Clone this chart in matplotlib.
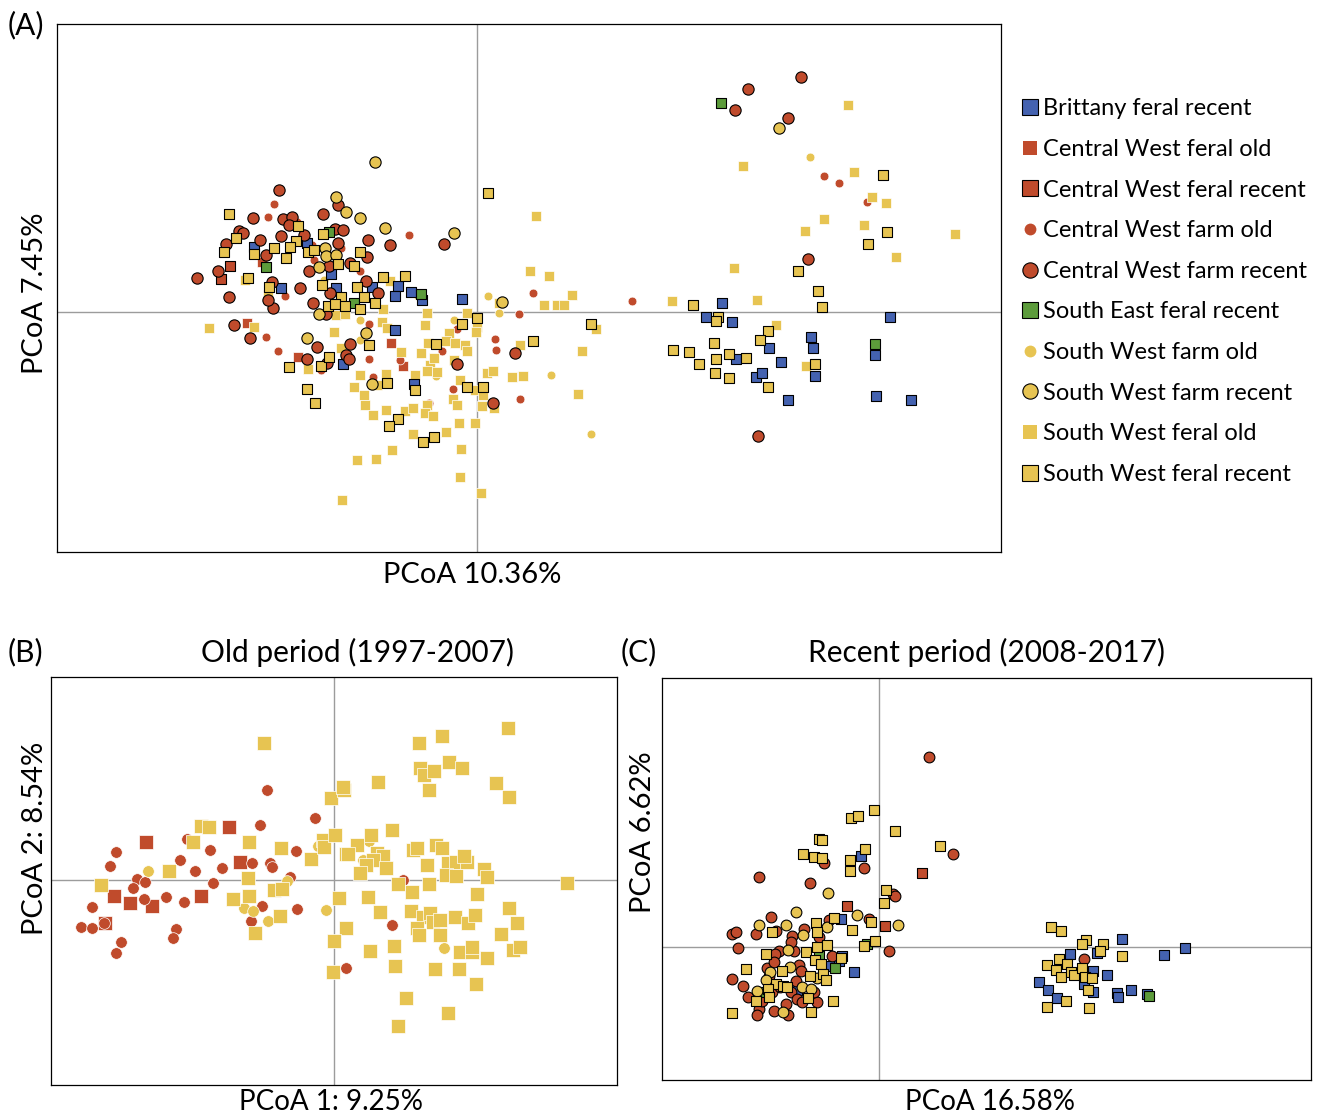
import numpy as np
import matplotlib.pyplot as plt
from matplotlib.lines import Line2D

plt.rcParams['font.family'] = ['Lato', 'DejaVu Sans']

# Группы (порядок легенды)
groups = ['Brittany feral recent', 'Central West feral old', 'Central West feral recent',
          'Central West farm old', 'Central West farm recent', 'South East feral recent',
          'South West farm old', 'South West farm recent', 'South West feral old',
          'South West feral recent']

# ---- (A) все образцы: PCoA 10.36% / 7.45%
a_brittany = [(-2.23, 0.65), (-1.70, 0.69), (-1.46, 0.38), (-1.96, 0.24), (-1.41, 0.24), (-1.05, 0.25),
              (-0.79, 0.26), (-0.82, 0.16), (-0.66, 0.20), (-0.55, 0.12), (-0.15, 0.13), (-0.82, -0.18),
              (-1.34, -0.52), (-0.63, -0.72), (2.45, 0.09), (2.29, -0.05), (2.55, -0.10), (2.92, -0.36),
              (3.34, -0.25), (3.36, -0.36), (4.13, -0.05), (3.98, -0.43), (2.59, -0.47), (3.04, -0.50),
              (2.79, -0.65), (2.85, -0.61), (3.38, -0.64), (3.11, -0.88), (3.99, -0.84), (4.34, -0.88)]
a_cw_feral_old = [(-2.30, -0.11), (-2.15, 0.50), (-1.79, -0.45), (-0.86, -0.31), (-0.74, -0.54)]
a_cw_feral_recent = [(-2.47, 0.46), (-2.56, 0.33)]
a_cw_farm_old = [(-2.03, 1.08), (-2.09, 0.95), (-1.80, 0.90), (-1.63, 0.52), (-1.36, 0.64), (-1.92, 0.16),
                 (-1.08, -0.12), (-1.65, 0.67), (-2.11, -0.25), (-1.99, -0.39), (-1.56, -0.58), (-1.08, -0.47),
                 (-0.68, 0.77), (-1.17, 0.41), (0.56, 0.19), (0.42, -0.02), (1.55, 0.11), (-0.20, -0.17),
                 (-0.35, -0.39), (-0.77, -0.48), (-1.04, -0.65), (0.18, -0.27), (0.19, -0.38), (0.43, -0.87),
                 (-0.24, -0.77), (-0.48, -0.91), (3.47, 1.36), (3.62, 1.29), (3.90, 1.10)]
a_cw_farm_recent = [(-1.98, 1.22), (-2.24, 0.94), (-1.94, 0.93), (-1.85, 0.95), (-2.38, 0.81), (-2.34, 0.79),
                    (-2.51, 0.68), (-2.17, 0.72), (-1.96, 0.76), (-1.73, 0.77), (-1.54, 0.98), (-1.39, 1.07),
                    (-1.42, 0.83), (-1.34, 0.82), (-1.39, 0.69), (-1.09, 0.72), (-2.11, 0.57), (-1.10, 0.55),
                    (-2.59, 0.41), (-2.80, 0.34), (-1.68, 0.41), (-1.48, 0.46), (-1.27, 0.49), (-2.05, 0.30),
                    (-1.77, 0.24), (-1.11, 0.31), (-2.48, 0.15), (-1.47, 0.19), (-1.64, 0.09), (-2.04, 0.04),
                    (-2.09, 0.12), (-1.51, -0.02), (-2.43, -0.13), (-1.88, 0.87), (-2.27, -0.26), (-1.70, -0.47),
                    (-1.60, -0.35), (-1.50, -0.51), (-1.27, -0.32), (-1.31, -0.43), (-1.28, -0.47), (-0.33, 0.68),
                    (-0.87, 0.67), (-0.99, 0.19), (0.38, -0.41), (-0.20, -0.52), (0.16, -0.91), (3.24, 2.35),
                    (2.71, 2.23), (2.58, 2.02), (3.11, 1.94), (3.31, 0.53), (2.81, -1.24)]
a_se_feral_recent = [(-1.48, 0.80), (-2.11, 0.45), (-1.23, 0.09), (-0.56, 0.18), (2.44, 2.09), (3.98, -0.32)]
a_sw_farm_old = [(-1.17, -0.08), (-1.53, 0.32), (-1.17, -0.28), (-0.59, 0.16), (0.11, 0.16), (0.22, -0.01),
                 (-0.23, -0.08), (-0.41, -0.64), (0.74, -0.63), (1.14, -1.22), (3.33, 1.55)]
a_sw_farm_recent = [(-1.41, 1.15), (-1.31, 1.00), (-1.17, 0.94), (-1.02, 1.50), (-1.52, 0.64), (-1.51, 0.56),
                    (-1.41, 0.57), (-1.58, 0.45), (-1.58, -0.02), (-1.70, -0.26), (-1.11, -0.21), (-1.05, -0.72),
                    (-0.92, 0.84), (-0.23, 0.79), (0.25, 0.10), (3.02, 1.84)]
a_sw_feral_old = [(-2.32, 0.32), (-1.41, -0.03), (-1.32, -0.02), (-2.68, -0.16), (-2.23, -0.15), (-2.09, 0.17),
                  (-1.69, -0.57), (-1.36, -0.36), (-1.43, -0.20), (-1.17, -0.63), (-1.23, -0.75), (-1.13, -0.83),
                  (-1.12, -0.93), (-1.04, -1.03), (-1.20, -1.48), (-1.01, -1.47), (0.59, 0.96), (-0.87, 0.31),
                  (-0.94, 0.03), (-0.50, -0.01), (-0.10, -0.01), (-0.52, -0.13), (0.22, 0.09), (0.53, 0.41),
                  (0.72, 0.36), (0.95, 0.17), (0.67, 0.07), (0.80, 0.07), (0.87, 0.07), (1.95, 0.11),
                  (-0.95, -0.10), (0.00, -0.15), (-0.01, -0.20), (-0.90, -0.16), (-0.28, -0.21), (-0.49, -0.31),
                  (-0.31, -0.29), (-0.22, -0.31), (-0.12, -0.33), (-0.10, -0.39), (-0.76, -0.40), (-0.56, -0.41),
                  (-0.47, -0.53), (-0.43, -0.46), (-0.23, -0.48), (-0.50, -0.59), (-0.40, -0.60), (-0.62, -0.63),
                  (-0.91, -0.62), (-1.00, -0.73), (-0.17, -0.68), (-0.02, -0.78), (0.06, -0.83), (0.10, -0.61),
                  (0.16, -0.59), (0.35, -0.65), (0.46, -0.64), (0.43, -0.33), (1.19, -0.17), (1.05, -0.39),
                  (1.01, -0.82), (-0.24, -0.87), (-0.20, -0.93), (-0.50, -0.93), (-0.52, -1.01), (-0.44, -1.04),
                  (0.05, -0.94), (0.17, -0.96), (-0.91, -0.98), (-0.72, -0.99), (-0.64, -0.96), (-0.18, -1.11),
                  (-0.02, -1.11), (-0.64, -1.22), (-0.31, -1.20), (-0.85, -1.38), (-0.16, -1.37), (-0.17, -1.65),
                  (0.04, -1.81), (-1.35, -1.88), (3.71, 2.07), (2.66, 1.46), (3.77, 1.40), (3.95, 1.15),
                  (4.09, 1.09), (3.47, 0.93), (3.28, 0.81), (3.87, 0.87), (4.78, 0.78), (4.19, 0.55),
                  (2.57, 0.44), (2.80, 0.12), (2.99, -0.13), (3.29, -0.54)]
a_sw_feral_recent = [(-2.48, 0.98), (-2.41, 0.74), (-2.53, 0.60), (-2.23, 0.58), (-1.79, 0.86), (-1.81, 0.71),
                     (-2.03, 0.64), (-1.87, 0.65), (-1.91, 0.54), (-1.69, 0.60), (-1.63, 0.62), (-1.54, 0.78),
                     (-1.39, 0.48), (-1.23, 0.46), (-1.17, 0.60), (-2.29, 0.34), (-2.08, 0.25), (-1.55, 0.27),
                     (-1.20, 0.25), (-1.36, 0.15), (-1.13, 0.15), (-1.49, 0.06), (-1.42, 0.08), (-1.32, 0.06),
                     (-1.17, 0.03), (-1.02, 0.09), (-1.88, -0.55), (-1.56, -0.54), (-1.48, -0.45), (-1.08, -0.33),
                     (-1.70, -0.77), (-1.62, -0.91), (0.11, 1.19), (-0.94, 0.35), (-0.72, 0.36), (0.00, -0.06),
                     (-0.15, -0.12), (1.14, -0.12), (-0.41, -0.32), (-0.90, -0.71), (-0.62, -0.78), (-0.10, -0.75),
                     (0.06, -0.75), (0.56, -0.29), (1.96, -0.38), (-0.79, -1.07), (-0.88, -1.14), (-0.43, -1.25),
                     (-0.54, -1.30), (4.06, 1.37), (4.10, 0.80), (3.91, 0.68), (3.21, 0.41), (3.41, 0.21),
                     (3.45, 0.05), (2.16, 0.07), (2.41, -0.05), (2.39, -0.09), (2.91, -0.19), (2.83, -0.28),
                     (2.12, -0.40), (2.37, -0.31), (2.22, -0.52), (2.39, -0.47), (2.52, -0.42), (2.69, -0.46),
                     (2.38, -0.61), (2.52, -0.66), (3.38, -0.52), (2.91, -0.75)]

# ---- (B) старый период: PCoA 1: 9.25% / PCoA 2: 8.54%
b_cw_feral_old = [(-1.88, 0.38), (-1.05, 0.53), (-0.94, 0.18), (-2.20, -0.16), (-2.04, -0.23), (-1.82, -0.26),
                  (-1.33, -0.16), (-2.29, -0.43)]
b_cw_farm_old = [(-0.67, 0.90), (-0.74, 0.55), (-0.19, 0.62), (-1.47, 0.41), (-2.18, 0.28), (-2.24, 0.14),
                 (-1.24, 0.30), (-1.54, 0.20), (-1.39, 0.09), (-1.12, 0.12), (-0.82, 0.17), (-0.64, 0.17),
                 (-0.62, 0.13), (-0.38, 0.29), (-0.44, 0.03), (-1.97, 0.01), (-1.89, -0.02), (-2.01, -0.08),
                 (-1.21, -0.03), (-1.90, -0.19), (-1.68, -0.17), (-1.50, -0.22), (-2.42, -0.27), (-0.72, -0.26),
                 (-0.37, -0.29), (-0.83, -0.41), (-2.53, -0.47), (-2.42, -0.48), (-2.30, -0.43), (-1.58, -0.49),
                 (-1.61, -0.58), (-2.13, -0.62), (-2.18, -0.73), (0.12, -0.88), (0.69, 0.00), (0.58, -0.45)]
b_sw_farm_old = [(-1.86, 0.09), (-0.90, -0.28), (-0.81, -0.31), (-0.66, -0.41), (-0.47, -0.01), (-0.16, 0.34),
                 (-0.08, -0.30), (1.10, -0.68), (0.35, 0.39), (0.29, 0.20)]
b_sw_feral_old = [(-0.70, 1.37), (-0.03, 0.82), (0.10, 0.90), (0.09, 0.93), (-1.33, 0.54), (-1.25, 0.53),
                  (-1.41, 0.38), (-0.85, 0.38), (-0.53, 0.32), (-0.23, 0.21), (-0.11, 0.40), (-0.10, 0.33),
                  (0.01, 0.45), (0.12, 0.26), (-1.65, 0.09), (-2.33, -0.05), (-0.86, 0.02), (-0.85, -0.16),
                  (-1.01, -0.19), (-0.60, -0.10), (-0.52, -0.09), (-0.54, -0.36), (-0.79, -0.53), (0.05, -0.18),
                  (0.12, -0.48), (0.00, -0.61), (-0.01, -0.92), (1.74, 1.52), (1.08, 1.44), (0.85, 1.37),
                  (0.86, 1.12), (0.90, 1.05), (1.00, 1.09), (1.15, 1.18), (1.28, 1.12), (1.62, 0.97),
                  (1.75, 0.83), (0.95, 0.90), (0.44, 0.98), (0.37, 0.45), (0.58, 0.50), (0.23, 0.35),
                  (0.14, 0.26), (0.43, 0.27), (0.49, 0.24), (0.39, 0.20), (0.32, 0.15), (0.52, 0.12),
                  (0.26, 0.07), (0.79, 0.30), (0.83, 0.32), (1.02, 0.35), (1.08, 0.32), (0.93, 0.15),
                  (1.14, 0.17), (1.22, 0.18), (1.33, 0.18), (1.30, 0.24), (1.12, 0.05), (1.22, 0.04),
                  (1.50, 0.11), (1.53, 0.03), (0.64, -0.04), (0.78, -0.12), (0.95, -0.04), (1.43, -0.14),
                  (2.33, -0.03), (0.34, -0.17), (0.46, -0.32), (0.77, -0.31), (0.89, -0.37), (0.96, -0.33),
                  (0.99, -0.42), (1.06, -0.40), (0.83, -0.48), (0.85, -0.55), (1.06, -0.55), (1.21, -0.37),
                  (1.34, -0.43), (1.41, -0.35), (1.75, -0.28), (1.83, -0.43), (1.67, -0.54), (0.36, -0.71),
                  (0.60, -0.66), (1.26, -0.72), (1.38, -0.72), (1.38, -0.67), (1.53, -0.78), (1.79, -0.70),
                  (1.86, -0.67), (0.61, -0.86), (1.01, -0.89), (1.25, -0.89), (1.42, -1.04), (0.72, -1.18),
                  (1.14, -1.33), (0.64, -1.46)]

# ---- (C) недавний период: PCoA 16.58% / 6.62%
c_brittany = [(-0.18, 0.91), (-0.38, 0.28), (-0.25, -0.25), (-0.50, -0.19), (-0.40, -0.14), (-0.37, -0.09),
              (-0.82, -0.43), (2.43, 0.08), (2.85, -0.08), (3.06, -0.01), (1.91, -0.07), (2.18, -0.06),
              (2.14, -0.24), (2.28, -0.28), (2.05, -0.37), (2.14, -0.45), (1.60, -0.35), (1.69, -0.43),
              (1.78, -0.51), (2.38, -0.46), (2.39, -0.50), (2.52, -0.43), (2.68, -0.47)]
c_cw_feral_recent = [(0.43, 0.74), (-0.32, 0.41), (0.06, 0.21)]
c_cw_farm_recent = [(0.50, 1.90), (0.74, 0.93), (-1.20, 0.70), (-0.69, 0.64), (-0.15, 0.79), (-0.55, 0.84),
                    (0.14, 0.53), (0.16, 0.51), (-1.08, 0.30), (-1.47, 0.13), (-1.43, 0.15), (-1.23, 0.13),
                    (-1.41, -0.01), (-1.03, 0.16), (-0.75, 0.18), (-0.87, 0.11), (-0.10, 0.28), (-0.50, 0.27),
                    (0.10, -0.04), (-1.00, -0.04), (-1.04, -0.07), (-0.85, -0.04), (-0.88, 0.05), (-1.12, -0.21),
                    (-1.10, -0.29), (-1.05, -0.15), (-0.80, -0.18), (-0.78, -0.24), (-1.47, -0.32), (-1.36, -0.39),
                    (-1.31, -0.50), (-1.20, -0.62), (-1.22, -0.68), (-1.05, -0.64), (-0.93, -0.57), (-0.91, -0.68),
                    (-0.83, -0.34), (-0.88, -0.45), (-0.82, -0.52), (-0.77, -0.55), (-0.62, -0.55), (-0.65, -0.45),
                    (-0.47, -0.09), (-1.07, -0.45), (-1.17, -0.54), (-0.99, -0.40), (-0.60, 0.10), (2.05, -0.12)]
c_se_feral_recent = [(-0.44, -0.21), (-0.12, 0.03), (-0.60, -0.09), (-1.17, -0.45), (2.70, -0.49)]
c_sw_farm_recent = [(-0.51, 0.54), (-0.83, 0.35), (-1.20, 0.22), (-0.93, 0.22), (-0.22, 0.32), (0.19, 0.22),
                    (-0.52, 0.20), (-0.76, 0.12), (-0.91, -0.03), (-1.09, -0.25), (-0.89, -0.20), (-1.13, -0.33),
                    (-1.22, -0.44), (-0.77, -0.40), (-0.68, -0.42), (-0.96, -0.65), (-0.62, -0.31)]
c_sw_feral_recent = [(-0.05, 1.37), (-0.28, 1.29), (-0.21, 1.31), (0.16, 1.16), (0.61, 1.01), (-0.60, 1.08),
                     (-0.57, 1.07), (-0.14, 0.98), (-0.76, 0.93), (-0.65, 0.90), (-0.57, 0.89), (-0.29, 0.87),
                     (-0.29, 0.76), (0.07, 0.57), (0.05, 0.44), (-0.45, 0.29), (-0.08, 0.25), (-0.63, 0.24),
                     (-1.07, 0.15), (-0.62, 0.15), (-0.27, 0.17), (-0.04, 0.06), (-0.15, 0.01), (-1.13, -0.07),
                     (-0.73, -0.05), (-0.62, 0.00), (-0.52, 0.02), (-0.38, -0.11), (-0.64, -0.13), (-0.58, -0.17),
                     (-1.33, -0.22), (-0.97, -0.24), (-0.56, -0.27), (-0.69, -0.29), (-0.53, -0.33), (-1.03, -0.37),
                     (-0.96, -0.39), (-0.92, -0.40), (-1.11, -0.42), (-1.23, -0.54), (-0.71, -0.51), (-0.46, -0.54),
                     (-1.47, -0.66), (-0.68, -0.65), (-1.10, -0.50), (1.72, 0.20), (1.82, 0.16), (2.07, 0.07),
                     (2.03, 0.03), (2.24, 0.03), (2.21, -0.04), (2.43, -0.09), (1.80, -0.12), (1.68, -0.18),
                     (1.88, -0.17), (1.77, -0.23), (1.82, -0.30), (1.92, -0.25), (1.95, -0.28), (2.03, -0.21),
                     (2.06, -0.30), (2.13, -0.31), (2.09, -0.43), (1.68, -0.60), (1.87, -0.54), (2.10, -0.61)]

# Цвета и маркеры
BLUE, RED, GREEN, YELLOW = '#4462B0', '#C04B2C', '#5C9B3B', '#E7C452'
style = {
    'Brittany feral recent':     ('s', BLUE, True),
    'Central West feral old':    ('s', RED, False),
    'Central West feral recent': ('s', RED, True),
    'Central West farm old':     ('o', RED, False),
    'Central West farm recent':  ('o', RED, True),
    'South East feral recent':   ('s', GREEN, True),
    'South West farm old':       ('o', YELLOW, False),
    'South West farm recent':    ('o', YELLOW, True),
    'South West feral old':      ('s', YELLOW, False),
    'South West feral recent':   ('s', YELLOW, True),
}

panel_a = dict(zip(groups, [a_brittany, a_cw_feral_old, a_cw_feral_recent, a_cw_farm_old, a_cw_farm_recent,
                            a_se_feral_recent, a_sw_farm_old, a_sw_farm_recent, a_sw_feral_old, a_sw_feral_recent]))
panel_b = {'Central West feral old': b_cw_feral_old, 'Central West farm old': b_cw_farm_old,
           'South West farm old': b_sw_farm_old, 'South West feral old': b_sw_feral_old}
panel_c = {'Brittany feral recent': c_brittany, 'Central West feral recent': c_cw_feral_recent,
           'Central West farm recent': c_cw_farm_recent, 'South East feral recent': c_se_feral_recent,
           'South West farm recent': c_sw_farm_recent, 'South West feral recent': c_sw_feral_recent}


def draw(ax, data, sizes):
    # sizes: (квадрат с рамкой, круг с рамкой, квадрат без рамки, круг без рамки)
    for g in groups:
        if g not in data:
            continue
        pts = np.array(data[g])
        marker, col, edged = style[g]
        if edged:
            s = sizes[0] if marker == 's' else sizes[1]
            ax.scatter(pts[:, 0], pts[:, 1], s=s, marker=marker, c=col, edgecolors='black',
                       linewidths=0.8, zorder=3)
        else:
            s = sizes[2] if marker == 's' else sizes[3]
            ax.scatter(pts[:, 0], pts[:, 1], s=s, marker=marker, c=col, edgecolors='white',
                       linewidths=0.5, zorder=2)
    ax.axhline(0, color='#9c9c9c', lw=1, zorder=1)
    ax.axvline(0, color='#9c9c9c', lw=1, zorder=1)
    ax.set_xticks([])
    ax.set_yticks([])
    for sp in ax.spines.values():
        sp.set_linewidth(0.9)


W, H = 1321, 1115
fig = plt.figure(figsize=(W / 100, H / 100), dpi=100)

def box(l, t, r, b):
    return [l / W, 1 - b / H, (r - l) / W, (b - t) / H]

FS = 21
FS2 = 20
FT = 21.5

axA = fig.add_axes(box(57, 24, 1001, 552))
draw(axA, panel_a, (62, 66, 44, 40))
axA.set_xlim(-4.20, 5.24)
axA.set_ylim(-2.40, 2.88)
axA.set_xlabel('PCoA 10.36%', fontsize=FS)
axA.set_ylabel('PCoA 7.45%', fontsize=FS)
axA.xaxis.set_label_coords(0.44, -0.044)
axA.yaxis.set_label_coords(-0.023, 0.49)

axB = fig.add_axes(box(51, 677, 617, 1085))
draw(axB, panel_b, (90, 70, 90, 70))
axB.set_xlim(-2.83, 2.83)
axB.set_ylim(-2.05, 2.03)
axB.set_xlabel('PCoA 1: 9.25%', fontsize=FS2)
axB.set_ylabel('PCoA 2: 8.54%', fontsize=FS)
axB.xaxis.set_label_coords(0.495, -0.042)
axB.yaxis.set_label_coords(-0.028, 0.605)

axC = fig.add_axes(box(662, 678, 1311, 1080))
draw(axC, panel_c, (56, 60, 50, 50))
axC.set_xlim(-2.165, 4.325)
axC.set_ylim(-1.335, 2.685)
axC.set_xlabel('PCoA 16.58%', fontsize=FS2)
axC.set_ylabel('PCoA 6.62%', fontsize=FS)
axC.xaxis.set_label_coords(0.505, -0.055)
axC.yaxis.set_label_coords(-0.029, 0.617)

for ax in (axA, axB, axC):
    ax.xaxis.label.set_va('center')
    ax.yaxis.label.set_va('center')

fig.text(8 / W, 1 - 25 / H, '(A)', fontsize=FT, va='center')
fig.text(8 / W, 1 - 652 / H, '(B)', fontsize=FT, va='center')
fig.text(621 / W, 1 - 652 / H, '(C)', fontsize=FT, va='center')
fig.text(357 / W, 1 - 652 / H, 'Old period (1997-2007)', fontsize=FT, va='center', ha='center')
fig.text(987 / W, 1 - 652 / H, 'Recent period (2008-2017)', fontsize=FT, va='center', ha='center')

# Легенда
handles = []
for g in groups:
    marker, col, edged = style[g]
    if edged:
        h = Line2D([], [], ls='none', marker=marker, markersize=11, markerfacecolor=col,
                   markeredgecolor='black', markeredgewidth=0.8)
    else:
        ms = 10 if marker == 's' else 8.5
        h = Line2D([], [], ls='none', marker=marker, markersize=ms, markerfacecolor=col,
                   markeredgecolor=col, markeredgewidth=0)
    handles.append(h)
fig.legend(handles, groups, loc='upper left', bbox_to_anchor=(1011 / W, 1 - 89 / H), frameon=False,
           fontsize=17, handlelength=0.8, handletextpad=0.15, labelspacing=0.83, borderaxespad=0)

fig.savefig('out.png', dpi=100)
